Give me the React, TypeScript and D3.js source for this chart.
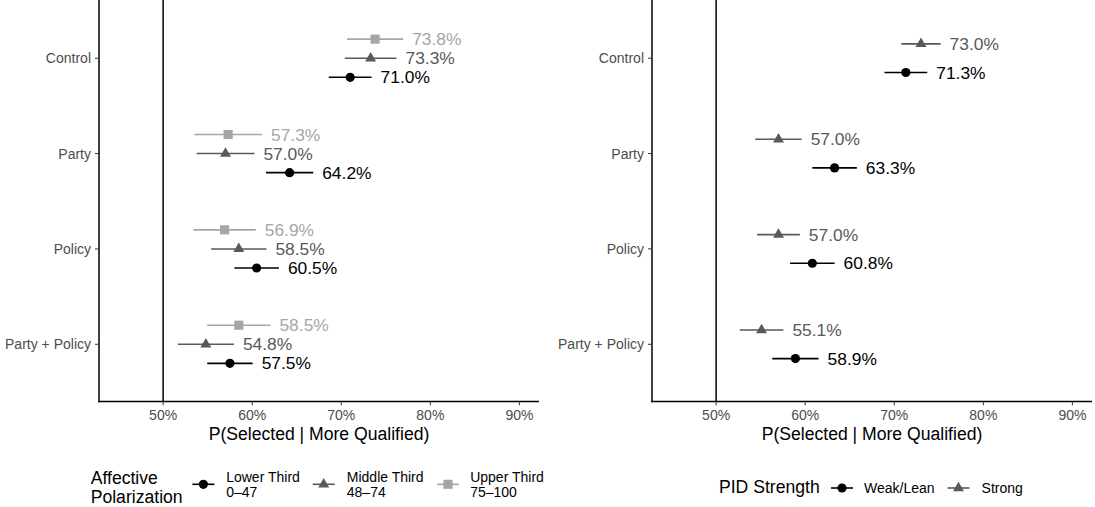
import React from 'react';
import * as d3 from 'd3';

// Experimental conditions (top to bottom) and shared x ticks (percent)
const conditions = ['Control', 'Party', 'Policy', 'Party + Policy'];
const xTicks = [50, 60, 70, 80, 90];
const xDomain: [number, number] = [42.8, 92.2];

// Affective polarization terciles: point estimates and CI half-widths (percent)
const apLowerMean = [71.0, 64.2, 60.5, 57.5];
const apLowerHalf = [2.4, 2.65, 2.5, 2.55];
const apMiddleMean = [73.3, 57.0, 58.5, 54.8];
const apMiddleHalf = [2.9, 3.25, 3.1, 3.15];
const apUpperMean = [73.8, 57.3, 56.9, 58.5];
const apUpperHalf = [3.15, 3.8, 3.5, 3.55];

// Partisan identity strength
const pidWeakMean = [71.3, 63.3, 60.8, 58.9];
const pidWeakHalf = [2.4, 2.5, 2.5, 2.6];
const pidStrongMean = [73.0, 57.0, 57.0, 55.1];
const pidStrongHalf = [2.2, 2.6, 2.4, 2.45];

const FONT = 'Liberation Sans, Arial, Helvetica, sans-serif';
const BLACK = '#000000';
const DARK = '#595959';
const LIGHT = '#A6A6A6';

type Shape = 'circle' | 'triangle' | 'square';

interface Series {
  label: string[];
  color: string;
  shape: Shape;
  mean: number[];
  half: number[];
  offset: number; // dodge, as a fraction of the category step
}

const apSeries: Series[] = [
  { label: ['Lower Third', '0\u201347'], color: BLACK, shape: 'circle', mean: apLowerMean, half: apLowerHalf, offset: 0.2 },
  { label: ['Middle Third', '48\u201374'], color: DARK, shape: 'triangle', mean: apMiddleMean, half: apMiddleHalf, offset: 0 },
  { label: ['Upper Third', '75\u2013100'], color: LIGHT, shape: 'square', mean: apUpperMean, half: apUpperHalf, offset: -0.2 },
];

const pidSeries: Series[] = [
  { label: ['Weak/Lean'], color: BLACK, shape: 'circle', mean: pidWeakMean, half: pidWeakHalf, offset: 0.15 },
  { label: ['Strong'], color: DARK, shape: 'triangle', mean: pidStrongMean, half: pidStrongHalf, offset: -0.15 },
];

const symbolPath: Record<Shape, string> = {
  circle: d3.symbol().type(d3.symbolCircle).size(Math.PI * 4.6 * 4.6)() as string,
  triangle: d3.symbol().type(d3.symbolTriangle).size(52)() as string,
  square: d3.symbol().type(d3.symbolSquare).size(84)() as string,
};

function Marker({ shape, color, x, y }: { shape: Shape; color: string; x: number; y: number }) {
  return <path d={symbolPath[shape]} transform={`translate(${x},${y})`} fill={color} />;
}

const PANEL_TOP = 1;
const PANEL_BOTTOM = 401.5;

function Panel({ x0, x1, series }: { x0: number; x1: number; series: Series[] }) {
  const x = d3.scaleLinear().domain(xDomain).range([x0, x1]);
  const y = d3.scalePoint<string>().domain(conditions).range([PANEL_TOP, PANEL_BOTTOM]).padding(0.6);
  const step = y.step();
  const cx = (x0 + x1) / 2;

  return (
    <g>
      {/* reference line at chance */}
      <line x1={x(50)} x2={x(50)} y1={PANEL_TOP - 1} y2={PANEL_BOTTOM} stroke="#000" strokeWidth={1.5} />

      {series.map((s, si) => (
        <g key={si}>
          {conditions.map((c, i) => {
            const yy = (y(c) as number) + s.offset * step;
            const lo = s.mean[i] - s.half[i];
            const hi = s.mean[i] + s.half[i];
            return (
              <g key={c}>
                <line x1={x(lo)} x2={x(hi)} y1={yy} y2={yy} stroke={s.color} strokeWidth={1.6} />
                <Marker shape={s.shape} color={s.color} x={x(s.mean[i])} y={yy} />
                <text x={x(hi) + 9} y={yy + 6} fontSize={17.4} fill={s.color} fontFamily={FONT}>
                  {s.mean[i].toFixed(1)}%
                </text>
              </g>
            );
          })}
        </g>
      ))}

      {/* axes */}
      <line x1={x0} x2={x0} y1={PANEL_TOP - 1} y2={PANEL_BOTTOM + 0.75} stroke="#000" strokeWidth={1.5} />
      <line x1={x0 - 0.75} x2={x1} y1={PANEL_BOTTOM} y2={PANEL_BOTTOM} stroke="#000" strokeWidth={1.5} />

      {conditions.map((c) => (
        <g key={c}>
          <line x1={x0 - 4} x2={x0} y1={y(c)} y2={y(c)} stroke="#333" strokeWidth={1} />
          <text x={x0 - 8} y={(y(c) as number) + 5} fontSize={14} fill="#4D4D4D" textAnchor="end" fontFamily={FONT}>
            {c}
          </text>
        </g>
      ))}

      {xTicks.map((t) => (
        <g key={t}>
          <line x1={x(t)} x2={x(t)} y1={PANEL_BOTTOM} y2={PANEL_BOTTOM + 3.8} stroke="#333" strokeWidth={1} />
          <text x={x(t)} y={420} fontSize={14} fill="#4D4D4D" textAnchor="middle" fontFamily={FONT}>
            {t}%
          </text>
        </g>
      ))}

      <text x={cx} y={439.5} fontSize={17.6} fill="#000" textAnchor="middle" fontFamily={FONT}>
        P(Selected | More Qualified)
      </text>
    </g>
  );
}

function LegendKey({ s, cx, cy }: { s: Series; cx: number; cy: number }) {
  return (
    <g>
      <line x1={cx - 11} x2={cx + 11} y1={cy} y2={cy} stroke={s.color} strokeWidth={1.6} />
      <Marker shape={s.shape} color={s.color} x={cx} y={cy} />
    </g>
  );
}

function Legends() {
  // Affective polarization legend (left)
  const apKeys = [203.4, 323.7, 448];
  const apLabels = [226.2, 346.8, 470.2];
  // PID strength legend (right)
  const pidKeys = [842, 958.5];
  const pidLabels = [864, 981.6];
  const legendOrderAp = [apSeries[0], apSeries[1], apSeries[2]];
  const legendOrderPid = [pidSeries[0], pidSeries[1]];

  return (
    <g fontFamily={FONT}>
      <text x={90.7} y={484.3} fontSize={17.6} fill="#000">Affective</text>
      <text x={90.7} y={502.7} fontSize={17.6} fill="#000">Polarization</text>
      {legendOrderAp.map((s, i) => (
        <g key={i}>
          <LegendKey s={s} cx={apKeys[i]} cy={484.3} />
          <text x={apLabels[i]} y={481.7} fontSize={14} fill="#000">{s.label[0]}</text>
          <text x={apLabels[i]} y={496.7} fontSize={14} fill="#000">{s.label[1]}</text>
        </g>
      ))}

      <text x={719} y={493.3} fontSize={17.6} fill="#000">PID Strength</text>
      {legendOrderPid.map((s, i) => (
        <g key={i}>
          <LegendKey s={s} cx={pidKeys[i]} cy={488} />
          <text x={pidLabels[i]} y={493} fontSize={14} fill="#000">{s.label[0]}</text>
        </g>
      ))}
    </g>
  );
}

export default function App() {
  return (
    <svg
      width={1095}
      height={507}
      viewBox="0 0 1095 507"
      style={{ position: 'absolute', left: 0, top: 0, display: 'block', background: '#fff' }}
    >
      <rect x={0} y={0} width={1095} height={507} fill="#fff" />
      <Panel x0={99} x1={539} series={apSeries} />
      <Panel x0={652} x1={1092} series={pidSeries} />
      <Legends />
    </svg>
  );
}
